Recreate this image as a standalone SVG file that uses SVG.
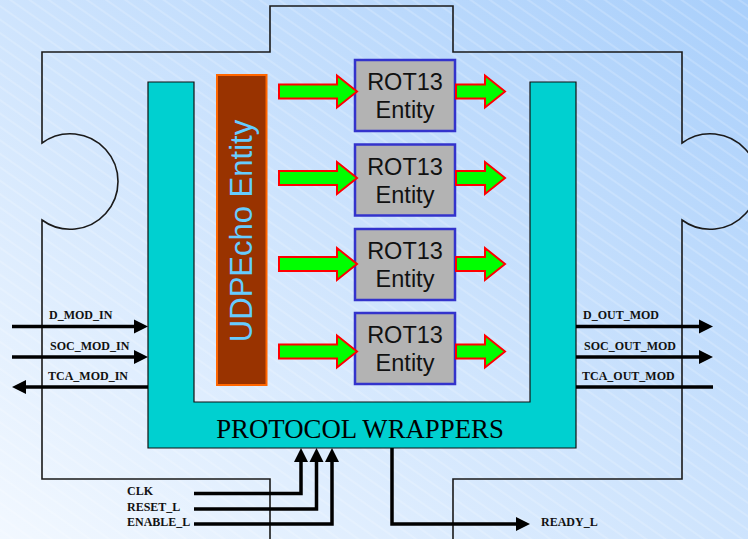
<svg xmlns="http://www.w3.org/2000/svg" width="748" height="539" viewBox="0 0 748 539">
<defs>
  <linearGradient id="bg" x1="0" y1="1" x2="1" y2="0">
    <stop offset="0" stop-color="#F2F8FF"/>
    <stop offset="1" stop-color="#A9CFFB"/>
  </linearGradient>
  <pattern id="hatch" patternUnits="userSpaceOnUse" width="20" height="11" patternTransform="rotate(35)">
    <line x1="0" y1="5" x2="20" y2="5" stroke="#FFFFFF" stroke-opacity="0.35" stroke-width="1"/>
  </pattern>
  <style>
    .outline { fill: none; stroke: #1a1a1a; stroke-width: 1.6; }
    .wrap { fill: #00D0D0; stroke: #111; stroke-width: 1.2; }
    .rot { fill: #B3B3B3; stroke: #3333CC; stroke-width: 2.5; }
    .rottxt { font-family: "Liberation Sans", Arial, sans-serif; font-size: 23.5px; fill: #111; text-anchor: middle; }
    .garrow { fill: #00FF00; stroke: #FF0000; stroke-width: 2; stroke-linejoin: miter; }
    .sig { fill: none; stroke: #000; stroke-width: 3.5; stroke-linejoin: miter; }
    .head { fill: #000; }
    .lbl { font-family: "Liberation Serif", "Times New Roman", serif; font-weight: bold; font-size: 12px; fill: #111; }
  </style>
</defs>

<rect x="0" y="0" width="748" height="539" fill="url(#bg)"/>
<rect x="0" y="0" width="748" height="539" fill="url(#hatch)"/>

<g id="puzzle">
  <path class="outline" d="M270,545 L270,479 L42,479 L42,220 A47.75,47.75 0 1 0 42,143 L42,52 L270,52 L270,6 L453,6 L453,52 L682,52 L682,143 A47.75,47.75 0 1 1 682,220 L682,479 L453,479 L453,545"/>
</g>

<g id="protocol-wrappers">
  <path class="wrap" d="M148,82 L194,82 L194,402 L530,402 L530,82 L576,82 L576,448 L148,448 Z"/>
  <text x="360" y="438" font-family="Liberation Serif, 'Times New Roman', serif" font-size="26.8" fill="#000" text-anchor="middle">PROTOCOL WRAPPERS</text>
</g>

<g id="udpecho">
  <rect x="217" y="75" width="49.5" height="310" fill="#993300" stroke="#FF6600" stroke-width="2"/>
  <text transform="translate(252,231) rotate(-90)" font-family="Liberation Sans, Arial, sans-serif" font-size="31" fill="#66CCFF" text-anchor="middle">UDPEcho Entity</text>
</g>

<g id="rot13-1">
  <rect class="rot" x="355" y="60" width="100" height="71"/>
  <text class="rottxt" x="405" y="90">ROT13</text>
  <text class="rottxt" x="405" y="118">Entity</text>
</g>
<g id="rot13-2">
  <rect class="rot" x="355" y="144.5" width="100" height="71"/>
  <text class="rottxt" x="405" y="174.5">ROT13</text>
  <text class="rottxt" x="405" y="202.5">Entity</text>
</g>
<g id="rot13-3">
  <rect class="rot" x="355" y="229" width="100" height="71"/>
  <text class="rottxt" x="405" y="259">ROT13</text>
  <text class="rottxt" x="405" y="287">Entity</text>
</g>
<g id="rot13-4">
  <rect class="rot" x="355" y="313" width="100" height="71"/>
  <text class="rottxt" x="405" y="343">ROT13</text>
  <text class="rottxt" x="405" y="371">Entity</text>
</g>

<g id="connectors">
  <!-- green block arrows -->
  <path class="garrow" d="M279,84.5 L337,84.5 L337,75.5 L357,91.5 L337,107.5 L337,98.5 L279,98.5 Z"/>
  <path class="garrow" d="M456,84.5 L485,84.5 L485,75.5 L505,91.5 L485,107.5 L485,98.5 L456,98.5 Z"/>
  <path class="garrow" d="M279,171 L337,171 L337,162 L357,178 L337,194 L337,185 L279,185 Z"/>
  <path class="garrow" d="M456,171 L485,171 L485,162 L505,178 L485,194 L485,185 L456,185 Z"/>
  <path class="garrow" d="M279,257 L337,257 L337,248 L357,264 L337,280 L337,271 L279,271 Z"/>
  <path class="garrow" d="M456,257 L485,257 L485,248 L505,264 L485,280 L485,271 L456,271 Z"/>
  <path class="garrow" d="M279,344.5 L337,344.5 L337,335.5 L357,351.5 L337,367.5 L337,358.5 L279,358.5 Z"/>
  <path class="garrow" d="M456,344.5 L485,344.5 L485,335.5 L505,351.5 L485,367.5 L485,358.5 L456,358.5 Z"/>

  <!-- left signals -->
  <line class="sig" x1="12" y1="326.5" x2="136" y2="326.5"/>
  <polygon class="head" points="134,319.5 148,326.5 134,333.5"/>
  <line class="sig" x1="12" y1="357" x2="136" y2="357"/>
  <polygon class="head" points="134,350 148,357 134,364"/>
  <line class="sig" x1="24" y1="387" x2="148" y2="387"/>
  <polygon class="head" points="26,380 12,387 26,394"/>

  <!-- right signals -->
  <line class="sig" x1="576" y1="326.5" x2="700" y2="326.5"/>
  <polygon class="head" points="699,319.5 713,326.5 699,333.5"/>
  <line class="sig" x1="576" y1="357" x2="700" y2="357"/>
  <polygon class="head" points="699,350 713,357 699,364"/>
  <line class="sig" x1="576" y1="387" x2="713" y2="387"/>

  <!-- bottom inputs -->
  <polyline class="sig" points="194,493.5 301,493.5 301,460"/>
  <polygon class="head" points="294,462 301,448 308,462"/>
  <polyline class="sig" points="194,509 316.5,509 316.5,460"/>
  <polygon class="head" points="309.5,462 316.5,448 323.5,462"/>
  <polyline class="sig" points="194,524 332,524 332,460"/>
  <polygon class="head" points="325,462 332,448 339,462"/>

  <!-- ready output -->
  <polyline class="sig" points="392,448 392,524 518,524"/>
  <polygon class="head" points="516,517 530,524 516,531"/>
</g>

<g id="labels">
  <text class="lbl" x="49" y="319">D_MOD_IN</text>
  <text class="lbl" x="50" y="350">SOC_MOD_IN</text>
  <text class="lbl" x="48" y="380">TCA_MOD_IN</text>
  <text class="lbl" x="583" y="319">D_OUT_MOD</text>
  <text class="lbl" x="584" y="350">SOC_OUT_MOD</text>
  <text class="lbl" x="582" y="380">TCA_OUT_MOD</text>
  <text class="lbl" x="127" y="495">CLK</text>
  <text class="lbl" x="127" y="510.5">RESET_L</text>
  <text class="lbl" x="127" y="525.5">ENABLE_L</text>
  <text class="lbl" x="541" y="525.5">READY_L</text>
</g>
</svg>
